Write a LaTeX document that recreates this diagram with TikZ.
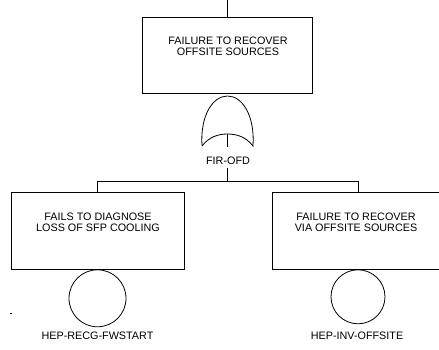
\documentclass[tikz,border=0pt]{standalone}
\usepackage{fontspec}
\setmainfont{Liberation Sans}
\usetikzlibrary{shapes.geometric}
\begin{document}
\begin{tikzpicture}[x=1pt,y=-1pt,
  evbox/.style={draw,line width=0.8pt,rectangle,inner sep=0pt},
  basic/.style={draw,line width=0.8pt,circle,inner sep=0pt},
  lbl/.style={font=\fontsize{10.8}{11}\selectfont,inner sep=0pt,align=center},
  wire/.style={line width=0.8pt}]
\useasboundingbox (0,0) rectangle (439,349);
\clip (0,0) rectangle (439,349);
% top event
\coordinate (topin) at (227,0);
\node[evbox,minimum width=170pt,minimum height=76pt] (top) at (227,55) {};
\node[lbl] (toptxt) at (228,46) {FAILURE TO RECOVER\\OFFSITE SOURCES};
% OR gate
\draw[line width=0.8pt] (202,146) .. controls (200,115) and (213,96) .. (227.5,96)
  .. controls (242,96) and (255,115) .. (253,146)
  .. controls (246,137) and (237,134) .. (227.5,134)
  .. controls (218,134) and (209,137) .. (202,146);
\coordinate (gin) at (227.5,134);
\coordinate (gout) at (227.5,147);
\node[lbl] (gate) at (228,160.5) {FIR-OFD};
\coordinate (stem) at (227.5,168);
\coordinate (bus) at (227.5,181);
% left
\node[evbox,minimum width=173pt,minimum height=77pt] (left) at (97.5,230.5) {};
\node[lbl] (lefttxt) at (98,222.5) {FAILS TO DIAGNOSE\\LOSS OF SFP COOLING};
\node[basic,minimum size=57pt,anchor=north] (lc) at (left.south) {};
\node[lbl] (lcl) at (97.5,336) {HEP-RECG-FWSTART};
% right
\node[evbox,minimum width=172pt,minimum height=77pt] (right) at (358,230.5) {};
\node[lbl] (righttxt) at (356,222.5) {FAILURE TO RECOVER\\VIA OFFSITE SOURCES};
\node[basic,minimum size=54pt,anchor=north] (rc) at (right.south) {};
\node[lbl] (rcl) at (357,336) {HEP-INV-OFFSITE};
% wires
\draw[wire] (topin) -- (top.north);
\draw[wire] (gin) -- (gout);
\draw[wire] (stem) -- (bus);
\draw[wire] (left.north) -- (left.north |- bus) -- (right.north |- bus) -- (right.north);
% stray mark
\coordinate (m1) at (9.5,313);
\coordinate (m2) at (12,313);
\draw[line width=0.8pt] (m1) -- (m2);
\end{tikzpicture}
\end{document}
